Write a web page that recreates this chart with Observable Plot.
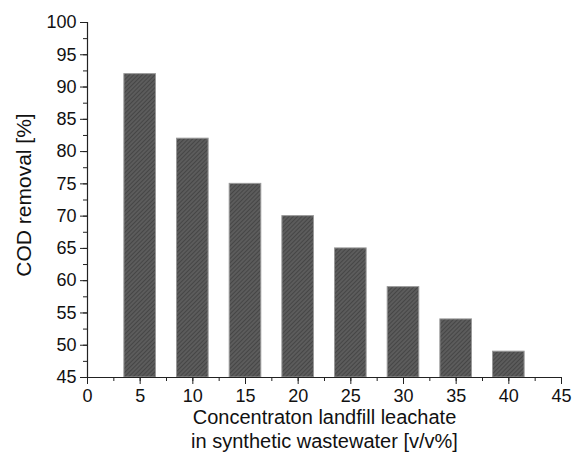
<!DOCTYPE html>
<html><head><meta charset="utf-8">
<script src="https://cdn.jsdelivr.net/npm/d3@7"></script>
<script src="https://cdn.jsdelivr.net/npm/@observablehq/plot@0.6"></script>
<style>body{margin:0;background:#fff}</style>
</head><body><div id="chart"></div>
<script>
const concentrations = [5, 10, 15, 20, 25, 30, 35, 40];
const codRemoval = [92, 82, 75, 70, 65, 59, 54, 49];
const xTicks = [0, 5, 10, 15, 20, 25, 30, 35, 40, 45];
const yTicks = [45, 50, 55, 60, 65, 70, 75, 80, 85, 90, 95, 100];
const xMinor = d3.range(0, 45.01, 2.5);
const yMinor = d3.range(45, 100.01, 2.5);
const barWidth = 3;
const data = concentrations.map((c, i) => ({c, v: codRemoval[i]}));

const plot = Plot.plot({
  width: 575, height: 453,
  marginLeft: 87, marginRight: 14, marginTop: 22, marginBottom: 76,
  style: {fontFamily: "'Liberation Sans', Arial, sans-serif", fontSize: "18px", color: "#111", background: "#fff"},
  x: {domain: [0, 45]},
  y: {domain: [45, 100]},
  marks: [
    Plot.rect(data, {x1: d => d.c - barWidth/2, x2: d => d.c + barWidth/2, y1: 45, y2: "v", fill: "url(#hatch)", stroke: "#999", strokeWidth: 1}),
    Plot.axisX({ticks: xMinor, tickSize: 4, tickFormat: () => "", stroke: "#222", label: null}),
    Plot.axisX({ticks: xTicks, tickSize: 7, tickPadding: 5, stroke: "#222", label: null, fontSize: 18}),
    Plot.axisY({ticks: yMinor, tickSize: 4, tickFormat: () => "", stroke: "#222", label: null}),
    Plot.axisY({ticks: yTicks, tickSize: 7, tickPadding: 4, stroke: "#222", label: null, fontSize: 18}),
    Plot.ruleY([45], {stroke: "#222", strokeWidth: 1.2}),
    Plot.ruleX([0], {stroke: "#222", strokeWidth: 1.2}),
    Plot.text(["Concentraton landfill leachate"], {frameAnchor: "bottom", dy: 40, fontSize: 20, lineAnchor: "middle"}),
    Plot.text(["in synthetic wastewater [v/v%]"], {frameAnchor: "bottom", dy: 64, fontSize: 20, lineAnchor: "middle"}),
    Plot.text(["COD removal [%]"], {frameAnchor: "left", dx: -63, dy: -5, rotate: -90, fontSize: 21, textAnchor: "middle"})
  ]
});

const defs = d3.select(plot).insert("defs", ":first-child");
const pat = defs.append("pattern").attr("id", "hatch").attr("patternUnits", "userSpaceOnUse")
  .attr("width", 3).attr("height", 3).attr("patternTransform", "rotate(45)");
pat.append("rect").attr("width", 3).attr("height", 3).attr("fill", "#5c5c5c");
pat.append("line").attr("x1", 0).attr("y1", 0).attr("x2", 0).attr("y2", 3).attr("stroke", "#3c3c3c").attr("stroke-width", 1.4);
document.getElementById("chart").appendChild(plot);
</script></body></html>
